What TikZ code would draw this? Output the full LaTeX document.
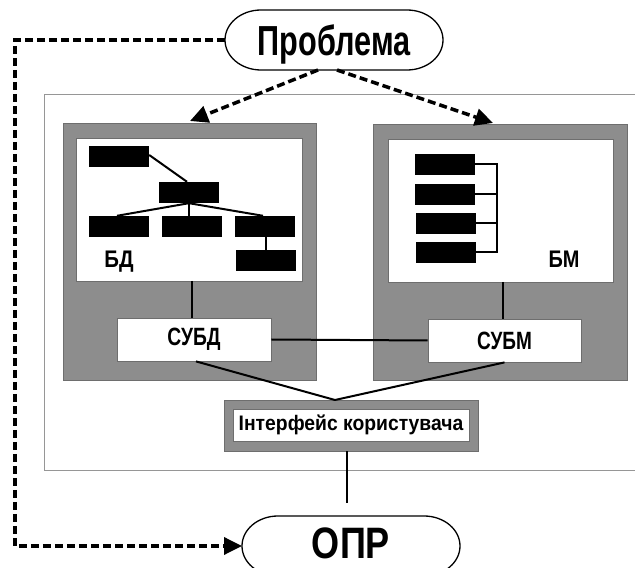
\documentclass[tikz,border=0pt]{standalone}
\usepackage{fontspec}
\setmainfont{Liberation Sans}
\usepackage{graphicx}
\usetikzlibrary{arrows.meta}
\definecolor{panelgray}{RGB}{141,141,141}
\definecolor{edgegray}{RGB}{110,110,110}
\definecolor{framegray}{RGB}{150,150,150}
\newcommand\lbl[3]{\scalebox{#1}[1]{\fontsize{#2}{#2}\selectfont\bfseries #3}}
\begin{document}
\begin{tikzpicture}[x=1pt,y=1pt,
  panel/.style={fill=panelgray,draw=edgegray,line width=0.8pt},
  whitebox/.style={fill=white,draw=edgegray,line width=0.8pt},
  blk/.style={fill=black,draw=none,minimum width=60pt,minimum height=21pt,inner sep=0pt},
  conn/.style={line width=2pt,black},
  dashline/.style={line width=3.5pt,dash pattern=on 8pt off 4pt,black},
  tipA/.style={-{Triangle[length=18pt,width=17pt]}},
  ovalnode/.style={inner sep=0pt,text depth=0pt},
  ovalline/.style={draw=black,line width=1.3pt}]
\useasboundingbox (0,0) rectangle (635,568);
% outer frame
\draw[framegray,line width=1pt] (44,97) rectangle (680,473);
% panels
\path[panel] (63,188) rectangle (316,445);
\path[whitebox] (76,287) rectangle (302,430);
\path[panel] (373,188) rectangle (627,444);
\path[whitebox] (388,286) rectangle (613,429);
% black records, left
\node[blk] (r1) at (119,411) {};
\node[blk] (r2) at (189,375.5) {};
\node[blk] (r3) at (119,341.5) {};
\node[blk] (r4) at (192,341.5) {};
\node[blk] (r5) at (265,341.5) {};
\node[blk] (r6) at (266,307.5) {};
\draw[conn] ([yshift=2pt]r1.east) -- ([xshift=-2pt]r2.north);
\draw[conn] (r2.south) -- ([xshift=-2pt]r3.north);
\draw[conn] (r2.south) -- (r2.south |- r4.north);
\draw[conn] (r2.south) -- ([xshift=-2pt]r5.north);
\draw[conn] (r5.south -| r6.north) -- (r6.north);
\node (bd) at (119,306) {\lbl{0.85}{24}{БД}};
% black records, right
\node[blk] (q1) at (445,403.5) {};
\node[blk] (q2) at (445,373.5) {};
\node[blk] (q3) at (446,344.5) {};
\node[blk] (q4) at (446,315.5) {};
\coordinate (bt) at (497,403.5);
\coordinate (bb) at (497,315.5);
\draw[conn] (q1.east) -- (bt) -- (bb) -- (q4.east);
\draw[conn] (q2.east) -- (q2.east -| bt);
\draw[conn] (q3.east) -- (q3.east -| bt);
\node (bm) at (564,309) {\lbl{0.83}{24}{БМ}};
% management systems
\node[whitebox,minimum width=154pt,minimum height=43pt,inner sep=0pt] (subd) at (194,228.5) {\lbl{0.77}{25}{СУБД}};
\node[whitebox,minimum width=153pt,minimum height=43pt,inner sep=0pt] (subm) at (504.5,227.5) {\lbl{0.76}{25}{СУБМ}};
\coordinate (lwb) at (192,287);
\coordinate (rwb) at (503,286);
\draw[conn] (lwb) -- (lwb |- subd.north);
\draw[conn] (rwb) -- (rwb |- subm.north);
\draw[conn] (subd.east) -- (subm.west);
% interface
\node[panel,minimum width=254pt,minimum height=51pt,inner sep=0pt] (ifg) at (351,142.5) {};
\node[whitebox,minimum width=236pt,minimum height=32pt,inner sep=0pt] (ifw) at (351,143) {\lbl{0.92}{21}{Інтерфейс користувача}};
\coordinate (meet) at (335,168);
\draw[conn] ([xshift=2pt]subd.south) -- (meet);
\draw[conn] (subm.south) -- (meet);
% ovals
\node[ovalnode] (prob) at (334,528) {\lbl{0.73}{42}{Проблема}};
\draw[ovalline] ([shift={(-73pt,30pt)}]prob.center) -- ([shift={(73pt,30pt)}]prob.center)
  arc[start angle=90,end angle=-90,x radius=36pt,y radius=30pt]
  -- ([shift={(-73pt,-30pt)}]prob.center)
  arc[start angle=270,end angle=90,x radius=36pt,y radius=30pt] -- cycle;
\node[ovalnode] (opr) at (351,25) {\lbl{0.82}{44}{ОПР}};
\draw[ovalline] ([shift={(-73pt,27pt)}]opr.center) -- ([shift={(73pt,27pt)}]opr.center)
  arc[start angle=90,end angle=-90,x radius=36pt,y radius=30pt]
  -- ([shift={(-73pt,-33pt)}]opr.center)
  arc[start angle=270,end angle=90,x radius=36pt,y radius=30pt] -- cycle;
\coordinate (ifdown) at (347,65);
\draw[conn] (ifdown |- ifg.south) -- (ifdown);
% dashed arrows
\coordinate (pl) at (318,498);
\coordinate (pr) at (337,498);
\coordinate (tl) at (190,447);
\coordinate (tr) at (493,445);
\draw[dashline,tipA] (pl) -- (tl);
\draw[dashline,tipA] (pr) -- (tr);
\coordinate (c1) at (15,528);
\coordinate (c2) at (15,22);
\draw[dashline,tipA] ([xshift=-109pt]prob.center) -- (c1) -- (c2) -- ([shift={(-109pt,-3pt)}]opr.center);
\end{tikzpicture}
\end{document}
